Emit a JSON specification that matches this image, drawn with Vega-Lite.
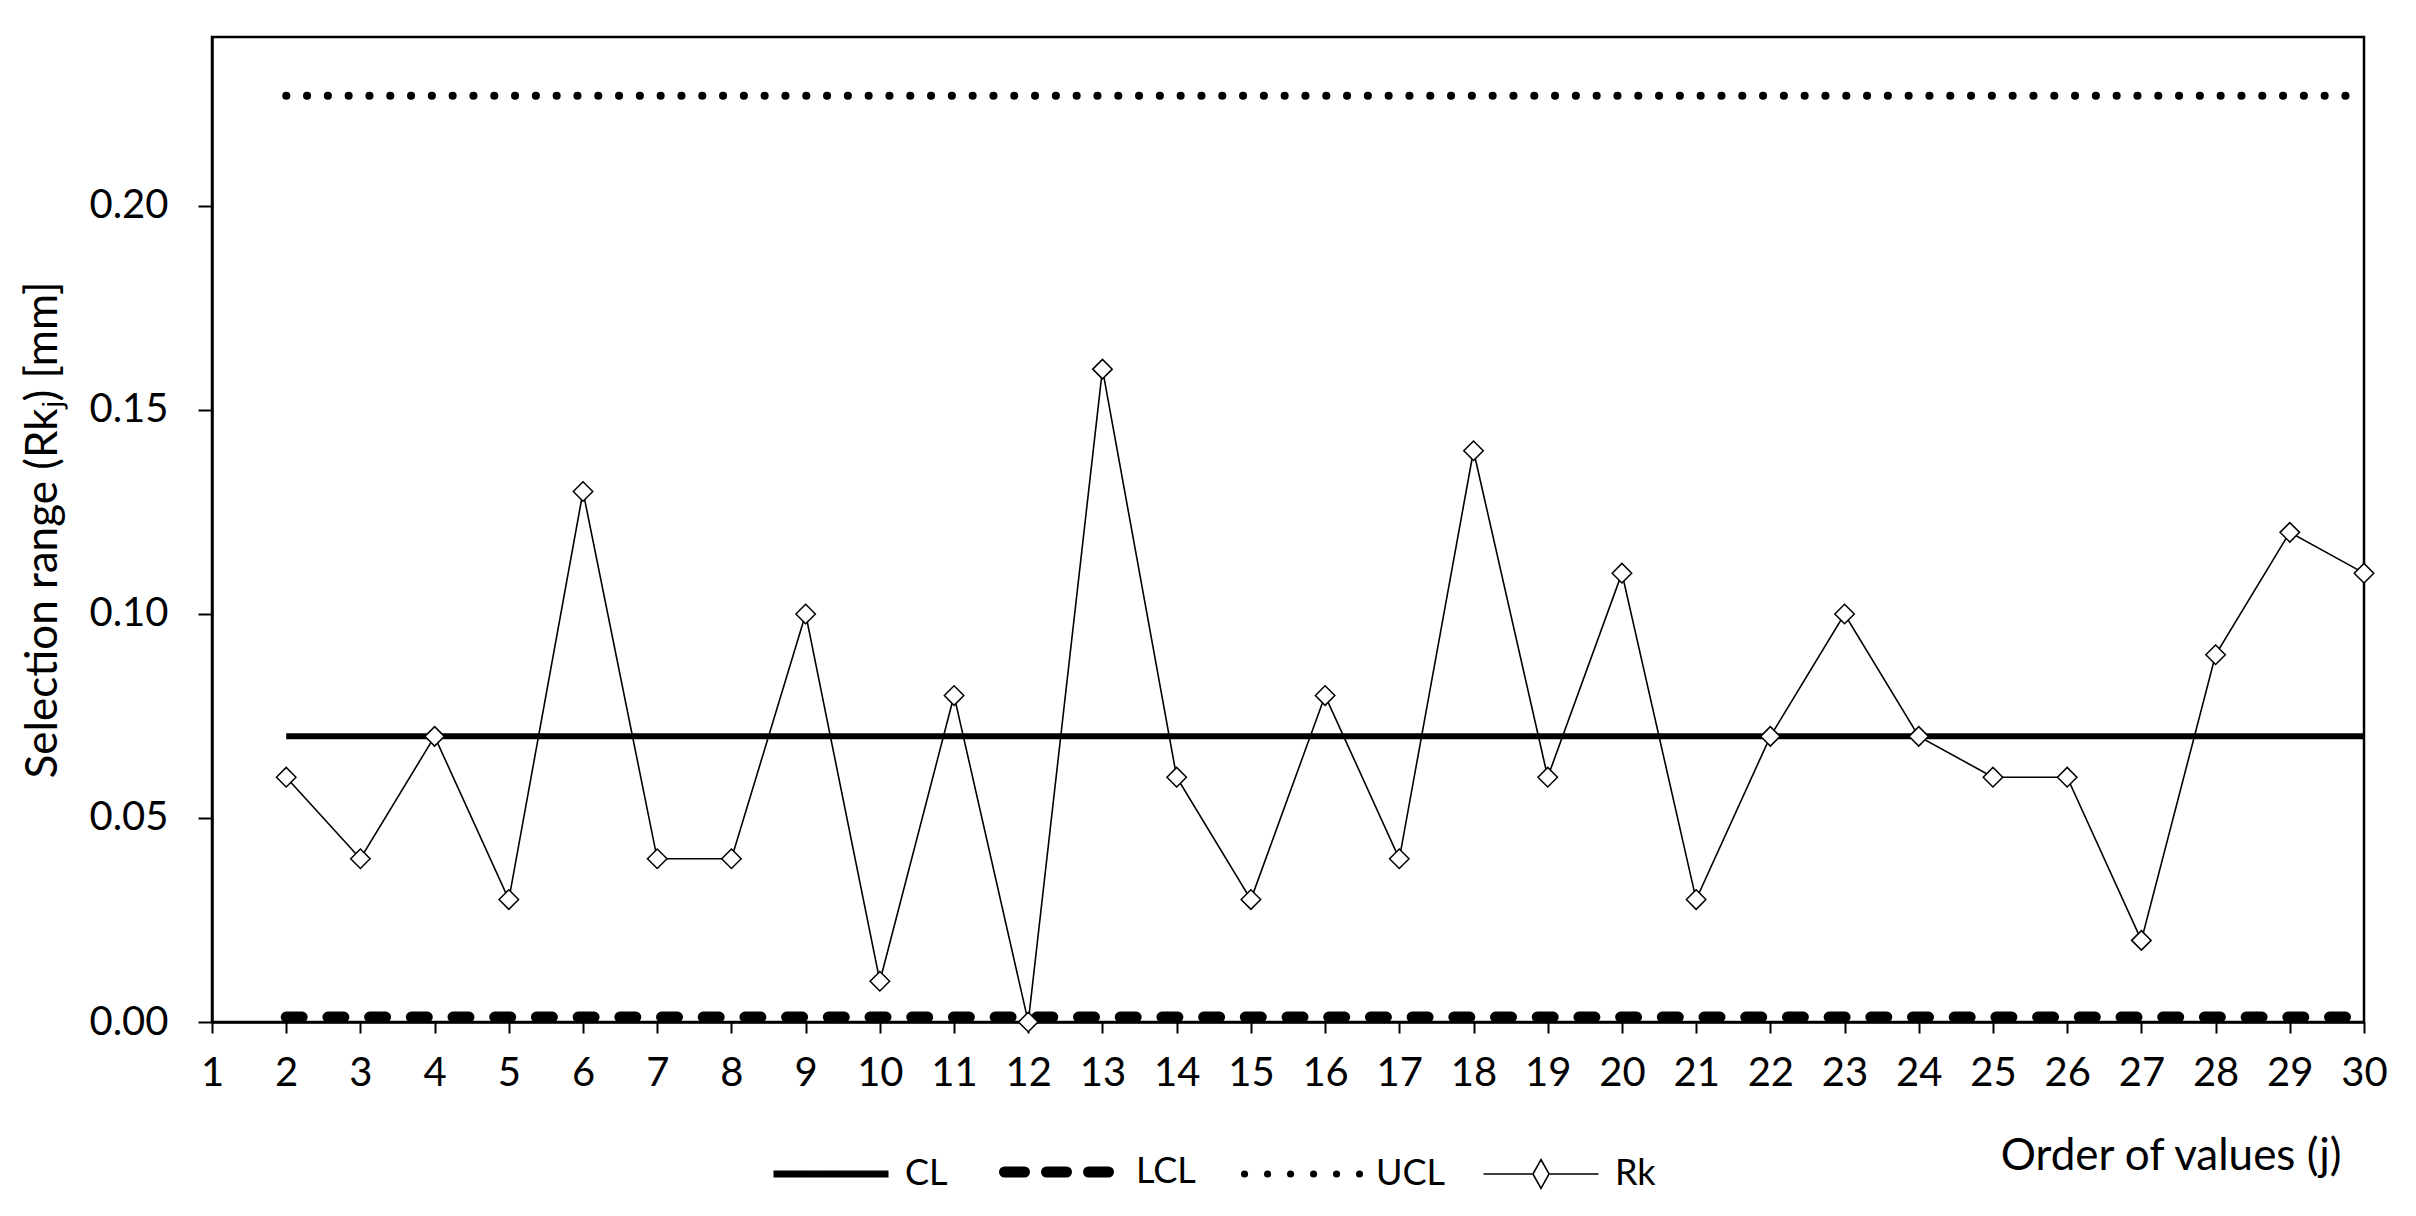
{
  "$schema": "https://vega.github.io/schema/vega-lite/v6.json",
  "width": 2152,
  "height": 985,
  "autosize": {"type": "none"},
  "padding": {"left": 212, "top": 37, "right": 52, "bottom": 194},
  "background": "white",
  "config": {
    "font": "Lato",
    "view": {"stroke": "black", "strokeWidth": 2.5},
    "axis": {"grid": false, "domainColor": "black", "domainWidth": 2.5, "tickColor": "black", "tickWidth": 2, "labelColor": "black", "titleColor": "black", "labelFont": "Lato", "titleFont": "Lato", "labelFontSize": 40, "titleFontSize": 44, "titleFontWeight": "normal"}
  },
  "datasets": {
    "rk": [
      {"j": 2, "Rk": 0.06}, {"j": 3, "Rk": 0.04}, {"j": 4, "Rk": 0.07}, {"j": 5, "Rk": 0.03},
      {"j": 6, "Rk": 0.13}, {"j": 7, "Rk": 0.04}, {"j": 8, "Rk": 0.04}, {"j": 9, "Rk": 0.10},
      {"j": 10, "Rk": 0.01}, {"j": 11, "Rk": 0.08}, {"j": 12, "Rk": 0.00}, {"j": 13, "Rk": 0.16},
      {"j": 14, "Rk": 0.06}, {"j": 15, "Rk": 0.03}, {"j": 16, "Rk": 0.08}, {"j": 17, "Rk": 0.04},
      {"j": 18, "Rk": 0.14}, {"j": 19, "Rk": 0.06}, {"j": 20, "Rk": 0.11}, {"j": 21, "Rk": 0.03},
      {"j": 22, "Rk": 0.07}, {"j": 23, "Rk": 0.10}, {"j": 24, "Rk": 0.07}, {"j": 25, "Rk": 0.06},
      {"j": 26, "Rk": 0.06}, {"j": 27, "Rk": 0.02}, {"j": 28, "Rk": 0.09}, {"j": 29, "Rk": 0.12},
      {"j": 30, "Rk": 0.11}
    ],
    "limits": [
      {"j": 2, "value": 0.07, "series": "CL"}, {"j": 30, "value": 0.07, "series": "CL"},
      {"j": 2, "value": 0.0012, "series": "LCL"}, {"j": 30, "value": 0.0012, "series": "LCL"},
      {"j": 2, "value": 0.227, "series": "UCL"}, {"j": 30, "value": 0.227, "series": "UCL"}
    ]
  },
  "encoding": {
    "x": {"field": "j", "type": "quantitative", "scale": {"domain": [1, 30], "nice": false},
      "axis": {"values": [1,2,3,4,5,6,7,8,9,10,11,12,13,14,15,16,17,18,19,20,21,22,23,24,25,26,27,28,29,30], "tickSize": 11, "labelPadding": 20, "labelFlush": false, "labelOverlap": false,
        "title": "Order of values (j)", "titleAnchor": "end", "titleAlign": "right", "titleX": 2129, "titleY": 134, "titleBaseline": "middle"}}
  },
  "layer": [
    {
      "data": {"name": "limits"},
      "transform": [{"filter": "datum.series === 'CL'"}],
      "mark": {"type": "line", "color": "black", "strokeWidth": 6},
      "encoding": {"y": {"field": "value", "type": "quantitative"}}
    },
    {
      "data": {"name": "limits"},
      "transform": [{"filter": "datum.series === 'UCL'"}],
      "mark": {"type": "line", "color": "black", "strokeWidth": 8, "strokeDash": [0.1, 20.7], "strokeCap": "round"},
      "encoding": {"y": {"field": "value", "type": "quantitative"}}
    },
    {
      "data": {"name": "limits"},
      "transform": [{"filter": "datum.series === 'LCL'"}],
      "mark": {"type": "rule", "color": "black", "strokeWidth": 1.5},
      "encoding": {"y": {"field": "value", "type": "quantitative"}}
    },
    {
      "data": {"name": "limits"},
      "transform": [{"filter": "datum.series === 'LCL'"}],
      "mark": {"type": "line", "color": "black", "strokeWidth": 11, "strokeDash": [16, 25.7], "strokeCap": "round"},
      "encoding": {"y": {"field": "value", "type": "quantitative"}}
    },
    {
      "data": {"name": "rk"},
      "mark": {"type": "line", "strokeWidth": 1.6},
      "encoding": {
        "y": {"field": "Rk", "type": "quantitative"},
        "stroke": {"datum": "Rk", "type": "nominal",
          "scale": {"domain": ["CL", "LCL", "UCL", "Rk"], "range": ["black", "black", "black", "black"]},
          "legend": {
            "title": null, "orient": "none", "legendX": 601, "legendY": 1117, "direction": "horizontal", "columns": 4,
            "columnPadding": 34, "symbolSize": 13225, "symbolType": "stroke", "labelFontSize": 36, "labelFont": "Lato", "labelColor": "black", "labelOffset": 56, "symbolStrokeColor": "black",
            "encode": {
              "symbols": {"update": {
                "shape": {"signal": "datum.value === 'Rk' ? 'M-1,0L-0.14,0M0.14,0L1,0M0,-0.25L0.14,0L0,0.25L-0.14,0Z' : 'stroke'"},
                "strokeDash": {"signal": "datum.value === 'LCL' ? [20, 22] : datum.value === 'UCL' ? [0.1, 22.9] : [1, 0]"},
                "strokeWidth": {"signal": "datum.value === 'CL' ? 7 : datum.value === 'LCL' ? 11 : datum.value === 'UCL' ? 7 : 1.6"},
                "strokeCap": {"signal": "datum.value === 'Rk' || datum.value === 'CL' ? 'butt' : 'round'"},
                "fill": {"signal": "datum.value === 'Rk' ? 'white' : 'transparent'"},
                "stroke": {"value": "black"}
              }}
            }
          }}
      }
    },
    {
      "data": {"name": "rk"},
      "mark": {"type": "point", "shape": "diamond", "filled": true, "fill": "white", "stroke": "black", "strokeWidth": 1.5, "size": 380, "opacity": 1},
      "encoding": {
        "y": {"field": "Rk", "type": "quantitative", "scale": {"domain": [0, 0.2414], "nice": false, "zero": true},
          "axis": {"values": [0, 0.05, 0.1, 0.15, 0.2], "format": ".2f", "tickSize": 14, "labelPadding": 30,
            "title": "Selection range (Rkⱼ) [mm]", "titleX": -169, "titleBaseline": "middle", "titleAngle": -90}}
      }
    }
  ]
}
